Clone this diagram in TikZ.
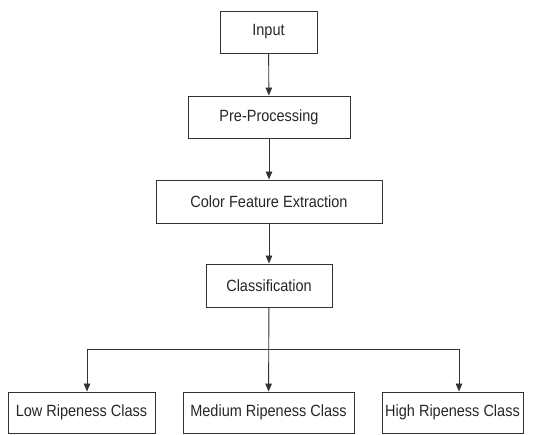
\documentclass[tikz,border=0pt]{standalone}
\usepackage{fontspec}
\setmainfont{Liberation Sans}
\usetikzlibrary{arrows.meta}
\newcommand{\tallt}[1]{\scalebox{1}[1.12]{#1}}
\begin{document}
\begin{tikzpicture}[x=1pt,y=-1pt,
  box/.style={draw=black!80, line width=0.9pt, inner sep=0pt, font=\fontsize{14.5}{17}\selectfont, text=black!85},
  arr/.style={draw=black!80, line width=0.9pt, -{Triangle[length=8pt,width=6.5pt]}}]
\useasboundingbox (0,0) rectangle (541,435);
\node[box, minimum width=97pt, minimum height=42pt] (in) at (268.5,32) {\tallt{Input}};
\node[box, minimum width=162pt, minimum height=42pt] (pre) at (269,117) {\tallt{Pre-Processing}};
\node[box, minimum width=226pt, minimum height=43pt] (cfe) at (269,201.5) {\tallt{Color Feature Extraction}};
\node[box, minimum width=126pt, minimum height=43pt] (cls) at (269,285.5) {\tallt{Classification}};
\node[box, minimum width=147pt, minimum height=41pt] (low) at (81.5,412.5) {\tallt{Low Ripeness Class}};
\node[box, minimum width=171pt, minimum height=41pt] (med) at (268.5,412.5) {\tallt{Medium Ripeness Class}};
\node[box, minimum width=141pt, minimum height=41pt] (high) at (452.5,412.5) {\tallt{High Ripeness Class}};
\coordinate (j) at (269,349);
\draw[arr] (in) -- (pre);
\draw[arr] (pre) -- (cfe);
\draw[arr] (cfe) -- (cls);
\draw[arr] (cls) -- (med);
\draw[arr] (j) -| (low.north -| 87,0);
\draw[arr] (j) -| (high.north -| 459,0);
\end{tikzpicture}
\end{document}
